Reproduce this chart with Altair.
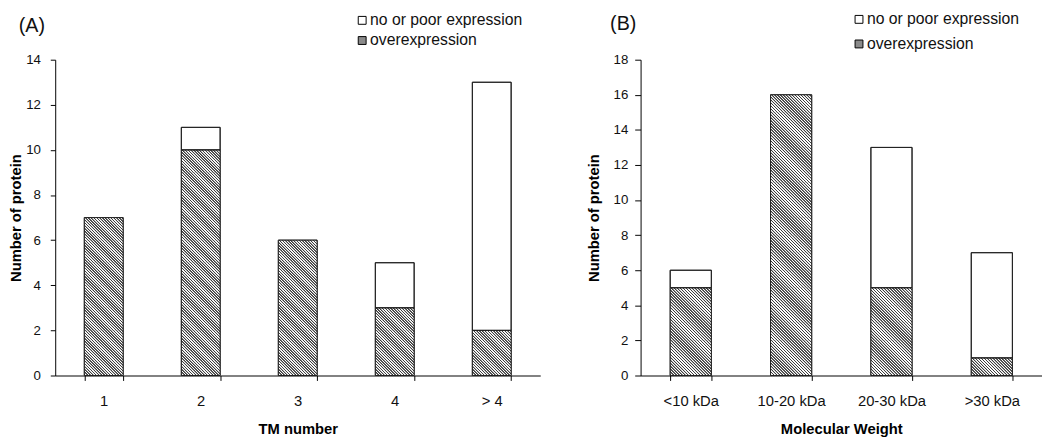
import altair as alt
import pandas as pd

# ---------------- data ----------------
tm_cats = ["1", "2", "3", "4", "> 4"]
tm_over = [7, 10, 6, 3, 2]
tm_poor = [0, 1, 0, 2, 11]

mw_cats = ["<10 kDa", "10-20 kDa", "20-30 kDa", ">30 kDa"]
mw_over = [5, 16, 5, 1]
mw_poor = [1, 0, 8, 6]

series_names = ["no or poor expression", "overexpression"]

FONT = "Liberation Sans"


def hatch(w, h, period, edge=0.5, core=0.9, color="#3c3c3c"):
    """Diagonal '\\' hatch as a striped linear gradient for a w x h pixel box."""
    L = w + h
    stops = []
    c = 0.0
    white = "#ffffff"
    while c < L - 1e-9:
        pts = [(c, white), (c + edge, color), (c + edge + core, color),
               (c + 2 * edge + core, white), (c + period, white)]
        for pos, col in pts:
            stops.append({"offset": round(min(pos, L) / L, 5), "color": col})
        c += period
    s = (w + h) / (w * w + h * h)
    return {"gradient": "linear", "x1": 0, "y1": 1, "x2": round(s * w, 6),
            "y2": round(1 - s * h, 6), "stops": stops}


def panel(cats, over, poor, width, height, ymax, pin, label, xtitle,
          ytick, ylabpad, ytitlepad, leg_x, leg_y, leg_rowpad, tdx, toff):
    rows = []
    for c, o, p in zip(cats, over, poor):
        rows.append({"cat": c, "series": series_names[1], "lo": 0, "hi": o})
        if p > 0:
            rows.append({"cat": c, "series": series_names[0], "lo": o, "hi": o + p})
    df = pd.DataFrame(rows)

    # unit slices of the overexpression bars (carry the hatch pattern)
    seg = []
    for c, o in zip(cats, over):
        for k in range(o):
            seg.append({"cat": c, "lo": k, "hi": k + 1})
    dseg = pd.DataFrame(seg)

    x = alt.X("cat:N",
              scale=alt.Scale(domain=cats, paddingInner=pin, paddingOuter=pin / 2),
              axis=alt.Axis(title=xtitle, labelAngle=0, tickBand="extent",
                            labelFontSize=15, tickSize=5, labelPadding=13,
                            titleFontSize=15, titleFontWeight="bold",
                            titlePadding=14))
    y = alt.Y("lo:Q",
              scale=alt.Scale(domain=[0, ymax], nice=False),
              axis=alt.Axis(values=list(range(0, ymax + 1, 2)),
                            title="Number of protein", labelFontSize=13.5,
                            tickSize=ytick, labelPadding=ylabpad,
                            titleFontSize=15, titleFontWeight="bold",
                            titlePadding=ytitlepad))

    bars = alt.Chart(df).mark_bar(stroke="#222222", strokeWidth=1).encode(
        x=x, y=y, y2="hi:Q",
        fill=alt.Fill("series:N",
                      scale=alt.Scale(domain=series_names,
                                      range=["#ffffff", "#8a8a8a"]),
                      legend=alt.Legend(orient="none", legendX=leg_x, legendY=leg_y,
                                        title=None, symbolType="square",
                                        symbolSize=64, symbolStrokeColor="#000000",
                                        symbolStrokeWidth=1, labelFontSize=16,
                                        labelFont=FONT, labelColor="#111111",
                                        rowPadding=leg_rowpad, padding=0,
                                        labelOffset=0)))

    ppu = height / ymax
    n_stripes = round(ppu / 3.0)
    period = ppu / n_stripes
    w_bar = width / len(cats) * (1 - pin)
    grad = hatch(w_bar, ppu, period)
    hatched = alt.Chart(dseg).mark_bar(fill=grad, strokeWidth=0).encode(
        x=x, y=y, y2="hi:Q")

    outline = alt.Chart(df).mark_bar(fillOpacity=0, stroke="#222222",
                                     strokeWidth=1).encode(x=x, y=y, y2="hi:Q")

    return alt.layer(bars, hatched, outline).properties(
        width=width, height=height,
        title=alt.TitleParams(text=label, anchor="start", frame="group",
                              fontSize=20, font=FONT, fontWeight="normal",
                              color="#111111", offset=toff, dx=tdx))


pA = panel(tm_cats, tm_over, tm_poor, 493, 321, 14, 0.6, "(A)", "TM number",
           5, 10, 2, 304, -48, 4.5, -37, -24)
pB = panel(mw_cats, mw_over, mw_poor, 408, 321, 18, 0.59, "(B)", "Molecular Weight",
           6, 7, 12, 214, -49, 9, -31, -23)

chart = alt.hconcat(pA, pB, spacing=46).resolve_scale(
    fill="independent", x="independent", y="independent"
).properties(
    padding={"left": 0, "top": 0, "right": 0, "bottom": 0}
).configure_view(stroke=None).configure_axis(
    grid=False, domainColor="#000000", tickColor="#000000", domainWidth=1,
    tickWidth=1, labelFont=FONT, titleFont=FONT, labelColor="#111111",
    titleColor="#000000"
)

chart.save("out.html", embed_options={"renderer": "svg", "actions": False})
